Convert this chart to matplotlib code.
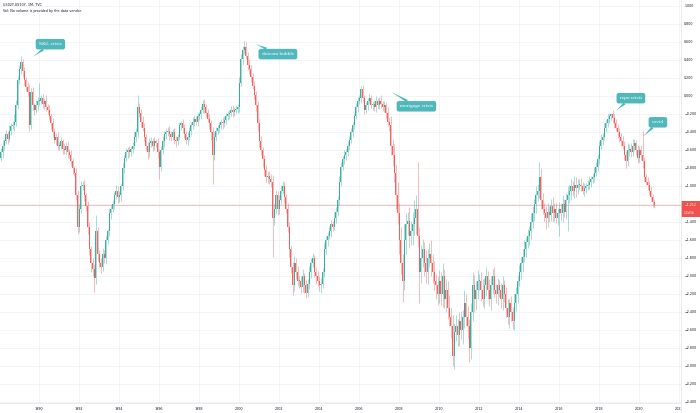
import matplotlib
matplotlib.use("Agg")
import matplotlib.pyplot as plt
import numpy as np
from matplotlib.transforms import blended_transform_factory
from matplotlib.patches import Rectangle

# ---------------- data (monthly candles, Jan 1988 .. Oct 2020) ----------------
first_open = -0.72
closes = [
    -0.68, -0.62, -0.55, -0.50, -0.42, -0.47, -0.38, -0.33, -0.32, -0.28, -0.10, 0.18,   # 1988
    0.30, 0.38, 0.28, 0.18, 0.10, 0.05, -0.32, 0.05, -0.10, -0.15, -0.10, -0.05,         # 1989
    -0.05, -0.02, -0.08, -0.05, -0.12, -0.15, -0.22, -0.30, -0.40, -0.48, -0.45, -0.55,  # 1990
    -0.55, -0.50, -0.58, -0.60, -0.55, -0.62, -0.65, -0.72, -0.80, -0.85, -1.10, -1.45,  # 1991
    -1.25, -1.00, -0.98, -1.10, -1.22, -1.45, -1.70, -1.85, -1.92, -2.02, -1.50, -1.75,  # 1992
    -1.85, -1.90, -1.75, -1.80, -1.60, -1.50, -1.30, -1.25, -1.20, -1.10, -1.05, -1.12,  # 1993
    -1.10, -1.00, -0.80, -0.68, -0.62, -0.60, -0.62, -0.58, -0.55, -0.45, -0.40, -0.12,  # 1994
    -0.18, -0.28, -0.35, -0.45, -0.55, -0.62, -0.52, -0.50, -0.55, -0.50, -0.52, -0.62,  # 1995
    -0.78, -0.60, -0.50, -0.42, -0.40, -0.38, -0.42, -0.45, -0.40, -0.48, -0.50, -0.45,  # 1996
    -0.32, -0.30, -0.35, -0.42, -0.48, -0.45, -0.38, -0.32, -0.28, -0.25, -0.28, -0.22,  # 1997
    -0.20, -0.15, -0.08, -0.12, -0.18, -0.25, -0.30, -0.40, -0.65, -0.45, -0.38, -0.35,  # 1998
    -0.32, -0.28, -0.30, -0.26, -0.22, -0.20, -0.18, -0.15, -0.17, -0.15, -0.14, -0.12,  # 1999
    0.15, 0.42, 0.52, 0.55, 0.45, 0.35, 0.30, 0.22, 0.12, 0.02, -0.10, -0.30,            # 2000
    -0.50, -0.60, -0.70, -0.82, -0.90, -0.88, -0.92, -0.95, -1.35, -1.25, -1.10, -1.25,  # 2001
    -1.15, -1.05, -1.00, -1.12, -1.25, -1.45, -1.70, -1.90, -2.10, -1.85, -1.95, -2.05,  # 2002
    -2.05, -2.12, -2.00, -2.10, -2.18, -2.08, -1.95, -1.85, -1.80, -1.95, -2.00, -2.05,  # 2003
    -2.10, -2.08, -1.95, -1.70, -1.60, -1.55, -1.50, -1.42, -1.45, -1.35, -1.28, -1.15,  # 2004
    -0.95, -0.78, -0.70, -0.65, -0.62, -0.55, -0.48, -0.40, -0.32, -0.22, -0.12, -0.05,  # 2005
    -0.02, 0.08, -0.02, -0.15, -0.10, -0.05, -0.02, -0.10, -0.08, -0.12, -0.05, -0.10,   # 2006
    -0.05, -0.08, -0.12, -0.10, -0.18, -0.28, -0.32, -0.55, -0.65, -0.85, -1.10, -1.30,  # 2007
    -1.60, -1.85, -2.05, -1.60, -1.42, -1.38, -1.55, -1.50, -1.42, -1.35, -1.25, -1.55,  # 2008
    -1.95, -1.80, -1.70, -1.85, -1.95, -1.80, -1.75, -1.85, -1.95, -2.05, -2.10, -2.20,  # 2009
    -2.05, -2.20, -2.00, -2.25, -2.15, -2.35, -2.45, -2.55, -2.88, -2.62, -2.55, -2.65,  # 2010
    -2.50, -2.60, -2.45, -2.30, -2.45, -2.55, -2.80, -2.40, -2.10, -2.25, -2.15, -2.05,  # 2011
    -2.05, -2.15, -2.25, -2.10, -2.00, -2.15, -2.25, -2.10, -2.00, -2.15, -2.20, -2.10,  # 2012
    -2.15, -2.25, -2.10, -2.20, -2.35, -2.45, -2.30, -2.40, -2.50, -2.30, -2.20, -2.05,  # 2013
    -1.95, -1.85, -1.78, -1.70, -1.62, -1.55, -1.50, -1.40, -1.30, -1.20, -1.10, -1.05,  # 2014
    -0.90, -1.15, -1.25, -1.30, -1.35, -1.28, -1.32, -1.22, -1.30, -1.25, -1.35, -1.30,  # 2015
    -1.25, -1.30, -1.20, -1.28, -1.15, -1.10, -1.05, -1.00, -1.05, -0.98, -1.02, -0.98,  # 2016
    -0.98, -1.00, -1.05, -1.02, -1.00, -0.98, -0.95, -0.92, -0.90, -0.85, -0.78, -0.70,  # 2017
    -0.55, -0.48, -0.45, -0.35, -0.30, -0.25, -0.22, -0.20, -0.24, -0.30, -0.35, -0.40,  # 2018
    -0.45, -0.50, -0.55, -0.65, -0.72, -0.60, -0.58, -0.62, -0.55, -0.52, -0.60, -0.68,  # 2019
    -0.60, -0.65, -0.72, -0.90, -0.95, -0.98, -1.05, -1.12, -1.17, -1.212,               # 2020
]
wick_up = [
    .04, .05, .06, .03, .05, .04, .06, .03, .05, .08, .06, .05,
    .05, .07, .04, .05, .03, .06, .08, .04, .05, .03, .06, .04,
    .20, .04, .05, .03, .06, .04, .05, .03, .06, .05, .04, .05,
    .04, .05, .03, .06, .04, .05, .03, .05, .04, .03, .05, .06,
    .05, .06, .04, .05, .03, .06, .05, .04, .05, .06, .18, .05,
    .04, .05, .06, .04, .05, .03, .06, .04, .05, .04, .06, .05,
    .05, .04, .06, .03, .05, .04, .05, .03, .04, .06, .05, .13,
    .05, .04, .06, .05, .03, .04, .06, .05, .04, .05, .03, .06,
    .04, .05, .06, .03, .05, .04, .05, .03, .04, .05, .04, .03,
    .04, .03, .05, .04, .03, .05, .04, .03, .05, .04, .03, .04,
    .03, .04, .04, .05, .03, .04, .05, .04, .06, .05, .04, .03,
    .04, .03, .05, .04, .03, .04, .03, .04, .05, .03, .04, .03,
    .06, .05, .04, .06, .05, .04, .06, .05, .04, .05, .04, .05,
    .05, .06, .04, .05, .06, .04, .05, .06, .08, .05, .06, .05,
    .05, .06, .06, .05, .04, .06, .05, .04, .06, .08, .05, .06,
    .06, .05, .08, .04, .06, .05, .07, .05, .06, .04, .05, .06,
    .05, .06, .04, .07, .05, .04, .06, .05, .04, .06, .05, .04,
    .06, .05, .04, .05, .03, .05, .04, .05, .03, .04, .05, .04,
    .04, .04, .05, .03, .04, .03, .05, .04, .03, .04, .05, .03,
    .04, .06, .03, .05, .04, .06, .05, .10, .08, .12, .10, .15,
    .12, .15, .10, .18, .12, .10, .15, .12, .14, .20, .15, .52,
    .10, .15, .12, .08, .14, .10, .12, .15, .10, .12, .08, .10,
    .12, .10, .15, .08, .12, .10, .14, .10, .12, .10, .12, .08,
    .10, .12, .08, .15, .10, .12, .08, .10, .15, .12, .10, .12,
    .08, .10, .12, .08, .10, .06, .12, .10, .08, .10, .06, .08,
    .06, .08, .10, .06, .08, .10, .06, .08, .06, .10, .08, .06,
    .08, .06, .08, .10, .06, .08, .06, .10, .08, .06, .10, .08,
    .17, .10, .08, .06, .08, .10, .06, .08, .10, .06, .08, .06,
    .08, .06, .10, .06, .08, .10, .06, .08, .06, .10, .08, .06,
    .06, .07, .05, .06, .04, .05, .06, .04, .05, .06, .05, .06,
    .05, .06, .04, .05, .04, .05, .04, .02, .05, .04, .05, .04,
    .05, .04, .06, .05, .04, .08, .05, .06, .08, .05, .04, .06,
    .05, .06, .26, .05, .04, .05, .04, .05, .04, .03,
]
wick_dn = [
    .05, .04, .06, .05, .03, .06, .04, .05, .03, .06, .05, .04,
    .04, .05, .06, .05, .04, .05, .06, .04, .05, .06, .04, .05,
    .05, .04, .05, .06, .04, .05, .04, .06, .05, .04, .06, .05,
    .05, .04, .06, .04, .05, .06, .04, .05, .06, .04, .05, .08,
    .06, .05, .04, .06, .05, .08, .06, .10, .08, .15, .06, .08,
    .05, .06, .04, .05, .06, .04, .05, .06, .04, .05, .04, .06,
    .05, .06, .04, .05, .04, .06, .05, .04, .05, .04, .06, .05,
    .05, .06, .04, .05, .06, .08, .05, .04, .06, .05, .04, .06,
    .14, .05, .04, .06, .05, .04, .06, .05, .04, .05, .06, .04,
    .04, .05, .06, .04, .05, .06, .04, .05, .04, .05, .04, .05,
    .04, .05, .04, .06, .05, .04, .06, .08, .32, .06, .05, .04,
    .05, .04, .06, .04, .05, .04, .05, .04, .06, .05, .04, .05,
    .05, .04, .06, .05, .04, .06, .05, .06, .04, .05, .06, .08,
    .06, .05, .08, .06, .05, .06, .05, .06, .43, .08, .06, .07,
    .06, .05, .04, .06, .05, .06, .08, .06, .11, .06, .08, .06,
    .08, .06, .05, .08, .06, .05, .06, .07, .05, .06, .08, .06,
    .06, .08, .05, .06, .05, .06, .04, .06, .05, .04, .06, .05,
    .06, .05, .04, .05, .06, .04, .05, .04, .05, .04, .03, .05,
    .04, .05, .04, .05, .04, .05, .04, .03, .05, .04, .05, .04,
    .04, .05, .04, .05, .06, .05, .06, .10, .12, .10, .15, .12,
    .15, .12, .23, .10, .15, .12, .14, .10, .15, .12, .18, .12,
    .35, .12, .10, .15, .12, .14, .10, .15, .12, .10, .15, .12,
    .10, .12, .14, .10, .15, .12, .10, .14, .12, .15, .10, .12,
    .12, .10, .15, .12, .10, .14, .15, .12, .10, .15, .12, .10,
    .10, .12, .08, .10, .12, .10, .08, .12, .10, .08, .10, .12,
    .08, .10, .12, .08, .10, .08, .12, .10, .08, .10, .08, .10,
    .06, .08, .10, .06, .08, .06, .10, .08, .06, .08, .10, .06,
    .08, .10, .06, .08, .12, .10, .08, .06, .10, .08, .06, .08,
    .25, .08, .10, .06, .08, .35, .08, .10, .06, .08, .10, .06,
    .06, .05, .04, .06, .05, .04, .05, .06, .04, .05, .04, .05,
    .05, .04, .06, .04, .05, .04, .05, .04, .06, .05, .04, .06,
    .06, .05, .04, .06, .08, .05, .06, .05, .04, .06, .05, .06,
    .05, .06, .08, .05, .04, .06, .05, .04, .06, .03,
]
start_year = 1988
year_labels = ["1990", "1992", "1994", "1996", "1998", "2000", "2002", "2004", "2006",
               "2008", "2010", "2012", "2014", "2016", "2018", "2020", "2022"]
price_ticks = [1.0, 0.8, 0.6, 0.4, 0.2, 0.0, -0.2, -0.4, -0.6, -0.8, -1.0, -1.2, -1.4,
               -1.6, -1.8, -2.0, -2.2, -2.4, -2.6, -2.8, -3.0, -3.2, -3.4]
title_line = "US02Y-US10Y, 1M, TVC"
vol_line = "Vol: No volume is provided by the data vendor."
countdown = "12d 5h"
# callouts: text, anchor (year, value), box offset in pixels
callouts = [
    ("S&L crisis",      1989.68,  0.44, 17.5, 12.5),
    ("dotcom bubble",   2000.83,  0.58, 22.0, -10.0),
    ("mortgage crisis", 2007.58,  0.05, 25.5, -14.5),
    ("repo crisis",     2018.83, -0.16, 15.0, 12.5),
    ("covid",           2020.18, -0.45, 15.0, 14.5),
]

UP = "#26a69a"
DN = "#ef5350"
TEAL = "#50b8bb"
GRID = "#f1f3f7"

closes = np.array(closes)
opens = np.concatenate([[first_open], closes[:-1]])
n = len(closes)
x = np.arange(n)
top = np.maximum(opens, closes)
bot = np.minimum(opens, closes)
highs = top + np.array(wick_up)
lows = bot - np.array(wick_dn)
cols = [UP if c >= o else DN for o, c in zip(opens, closes)]

fig = plt.figure(figsize=(7, 4.13), dpi=100)
W, H = 700, 413
ax_right = 681
ax_bottom = 403
ax = fig.add_axes([0, (H - ax_bottom) / H, ax_right / W, ax_bottom / H])
ax.set_facecolor("white")

ymax = 96.3 / 90
ymin = (96.3 - ax_bottom) / 90
ax.set_ylim(ymin, ymax)
ax.set_xlim(0.42, 0.42 + ax_right / (20 / 12))

# grid
for t in price_ticks:
    ax.axhline(t, color=GRID, lw=0.6, zorder=0)
xt = [(int(l) - start_year) * 12 for l in year_labels]
for t in xt:
    ax.axvline(t, color=GRID, lw=0.6, zorder=0)

# candles
ax.vlines(x, lows, highs, colors=cols, linewidth=0.5, alpha=0.55, zorder=2)
heights = np.maximum(top - bot, 0.006)
ax.bar(x, heights, bottom=bot, width=0.62, color=cols, linewidth=0, alpha=0.9, zorder=3)

# last price line
ax.axhline(closes[-1], color="#f6b3b2", lw=0.6, zorder=1)

# axes styling
for s in ax.spines.values():
    s.set_visible(False)
ax.set_yticks([])
ax.set_xticks(xt)
ax.set_xticklabels(year_labels, fontsize=2.4, color="#131722")
ax.tick_params(axis="x", length=0, pad=3.2)

# callouts
for txt, yr, val, dx, dy in callouts:
    m = (yr - start_year) * 12
    ax.annotate(txt, xy=(m, val), xytext=(dx, dy), textcoords="offset pixels",
                ha="center", va="center", color="white", fontsize=3.9,
                family="Liberation Serif", zorder=6,
                bbox=dict(boxstyle="round,pad=0.6,rounding_size=0.4", fc=TEAL, ec="none"),
                arrowprops=dict(arrowstyle="wedge,tail_width=0.5,shrink_factor=0.4",
                                fc=TEAL, ec="none", shrinkA=0, shrinkB=0))

# title texts
fig.text(3 / W, 1 - 5 / H, title_line, fontsize=2.4, color="#131722", va="center", ha="left")
fig.text(3 / W, 1 - 11 / H, vol_line, fontsize=2.4, color="#131722", va="center", ha="left")

# price scale panel (covers right edge)
pax = fig.add_axes([ax_right / W, 0, 1 - ax_right / W, 1])
pax.set_facecolor("white")
pax.set_xticks([]); pax.set_yticks([])
for s in pax.spines.values():
    s.set_visible(False)
tr = blended_transform_factory(pax.transAxes, ax.transData)
for t in price_ticks:
    lab = f"{t:.3f}".replace("-", "\u2212")
    pax.text(0.17, t, lab, transform=tr, fontsize=2.3, color="#131722", va="center", ha="left")
# last price label boxes
last = closes[-1]
pax.add_patch(Rectangle((0.0, last - 0.05), 1.0, 0.1, transform=tr, fc=DN, ec="none", zorder=4))
pax.text(0.17, last, f"{last:.3f}".replace("-", "\u2212"), transform=tr, fontsize=2.3,
         color="white", va="center", ha="left", zorder=5)
pax.add_patch(Rectangle((0.0, last - 0.125), 1.0, 0.072, transform=tr, fc=DN, ec="none", zorder=4))
pax.text(0.17, last - 0.089, countdown, transform=tr, fontsize=2.1,
         color="white", va="center", ha="left", zorder=5)

# border lines
fig.add_artist(plt.Line2D([ax_right / W, ax_right / W], [0, 1], color="#e0e3eb", lw=0.5))
fig.add_artist(plt.Line2D([0, ax_right / W], [(H - ax_bottom) / H] * 2, color="#e0e3eb", lw=0.5))

fig.savefig("out.png", dpi=100, facecolor="white")
